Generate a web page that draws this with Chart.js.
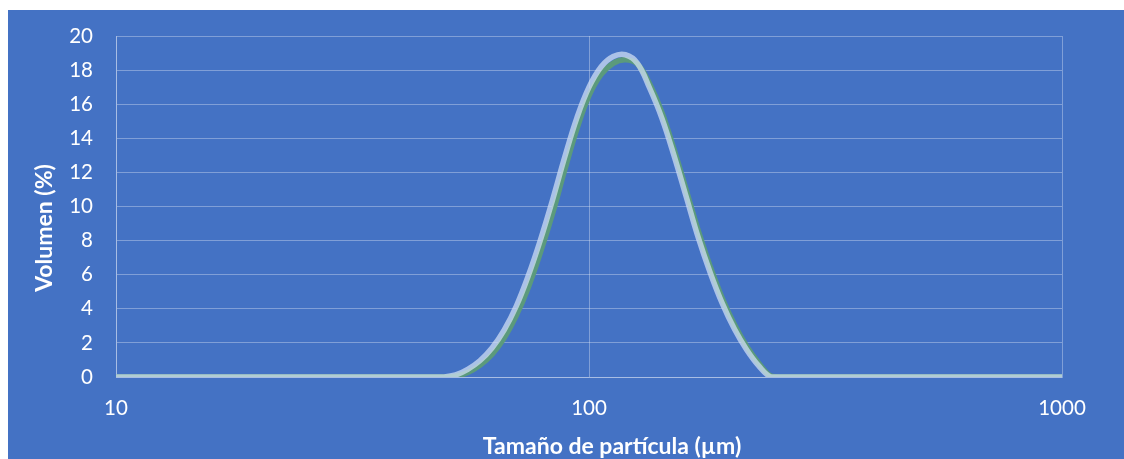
<!DOCTYPE html>
<html>
<head>
<meta charset="utf-8">
<script src="https://cdn.jsdelivr.net/npm/chart.js@4.4.0/dist/chart.umd.min.js"></script>
<style>
  html, body { margin: 0; padding: 0; background: #ffffff; }
  #wrap { position: absolute; left: 8px; top: 10px; width: 1116px; height: 449px; background: #4472C4; }
</style>
</head>
<body>
<div id="wrap"><canvas id="grafico" width="1116" height="449"></canvas></div>
<script>
// tamaño de partícula (µm), escala log
var tamanos = [10.00, 10.61, 11.25, 11.94, 12.66, 13.43, 14.25, 15.12, 16.04, 17.01,
  18.05, 19.14, 20.31, 21.54, 22.85, 24.24, 25.72, 27.28, 28.94, 30.70,
  32.57, 34.55, 36.65, 38.88, 41.25, 43.76, 46.42, 49.24, 52.23, 55.41,
  58.78, 62.36, 66.15, 70.17, 74.44, 78.97, 83.77, 88.86, 94.27, 100.0,
  106.1, 112.5, 119.4, 126.6, 134.3, 142.5, 151.2, 160.4, 170.1, 180.5,
  191.4, 203.1, 215.4, 228.5, 242.5, 257.2, 272.8, 289.4, 307.0, 325.7,
  345.5, 366.5, 388.8, 412.5, 437.6, 464.2, 492.4, 522.3, 554.1, 587.8,
  623.5, 661.5, 701.7, 744.4, 789.7, 837.7, 888.6, 942.7, 1000];

// muestra A (verde)
var volumenA = [0, 0, 0, 0, 0, 0, 0, 0, 0, 0,
  0, 0, 0, 0, 0, 0, 0, 0, 0, 0,
  0, 0, 0, 0, 0, 0, 0, 0, 0.05, 0.26,
  0.68, 1.32, 2.28, 3.6, 5.27, 7.32, 9.6, 12.15, 14.55, 16.5,
  17.75, 18.4, 18.6, 18.35, 17.2, 15.55, 13.37, 11.0, 8.6, 6.46,
  4.6, 3.06, 1.8, 0.81, 0.05, 0, 0, 0, 0, 0,
  0, 0, 0, 0, 0, 0, 0, 0, 0, 0,
  0, 0, 0, 0, 0, 0, 0, 0, 0];

// muestra B (celeste)
var volumenB = [0, 0, 0, 0, 0, 0, 0, 0, 0, 0,
  0, 0, 0, 0, 0, 0, 0, 0, 0, 0,
  0, 0, 0, 0, 0, 0, 0, 0, 0.12, 0.45,
  0.95, 1.7, 2.75, 4.15, 5.95, 8.05, 10.4, 12.9, 15.2, 17.0,
  18.2, 18.8, 18.9, 18.4, 16.95, 15.2, 13.0, 10.6, 8.2, 6.1,
  4.3, 2.8, 1.6, 0.65, 0, 0, 0, 0, 0, 0,
  0, 0, 0, 0, 0, 0, 0, 0, 0, 0,
  0, 0, 0, 0, 0, 0, 0, 0, 0];

var xTicks = [10, 100, 1000];
var yTicks = [0, 2, 4, 6, 8, 10, 12, 14, 16, 18, 20];

var tituloX = 'Tamaño de partícula (µm)';
var tituloY = 'Volumen (%)';

function puntos(vals) {
  return tamanos.map(function (t, i) { return { x: t, y: vals[i] }; });
}

var grid = 'rgba(255,255,255,0.32)';

// titulos de ejes dibujados a mano (Excel no los centra en el area)
var titulos = {
  id: 'titulos',
  afterDraw: function (chart) {
    var c = chart.ctx;
    c.save();
    c.fillStyle = '#ffffff';
    c.font = 'bold 23px Lato';
    c.textAlign = 'center';
    c.textBaseline = 'middle';
    c.fillText(tituloX, 604, 437);
    c.translate(37, 218);
    c.rotate(-Math.PI / 2);
    c.fillText(tituloY, 0, 0);
    c.restore();
  }
};

var ctx = document.getElementById('grafico');
var chart = new Chart(ctx, {
  type: 'line',
  data: {
    datasets: [{
      label: 'B',
      data: puntos(volumenB),
      borderColor: 'rgba(210,225,245,0.72)',
      borderWidth: 5.5,
      pointRadius: 0,
      tension: 0.4,
      order: 0
    }, {
      label: 'A',
      data: puntos(volumenA),
      borderColor: '#5b9a7c',
      borderWidth: 5.5,
      pointRadius: 0,
      tension: 0.4,
      order: 1
    }]
  },
  options: {
    responsive: false,
    animation: false,
    events: [],
    layout: { padding: { top: 26, right: 62, left: 0, bottom: 0 } },
    plugins: { legend: { display: false }, tooltip: { enabled: false } },
    scales: {
      x: {
        type: 'logarithmic',
        min: 10,
        max: 1000,
        afterBuildTicks: function (axis) {
          axis.ticks = xTicks.map(function (v) { return { value: v }; });
        },
        afterFit: function (axis) { axis.height = 82; },
        ticks: {
          color: '#ffffff',
          font: { family: 'Lato', size: 20.5 },
          padding: 19,
          maxRotation: 0,
          callback: function (v) { return String(v); }
        },
        grid: { color: grid, drawTicks: false },
        border: { color: grid }
      },
      y: {
        min: 0,
        max: 20,
        afterBuildTicks: function (axis) {
          axis.ticks = yTicks.map(function (v) { return { value: v }; });
        },
        afterFit: function (axis) {
          axis.width = 108;
          axis.paddingTop = 0;
          axis.paddingBottom = 0;
        },
        ticks: {
          color: '#ffffff',
          font: { family: 'Lato', size: 20.5 },
          padding: 23
        },
        grid: { color: grid, drawTicks: false },
        border: { color: grid }
      }
    }
  },
  plugins: [titulos]
});
</script>
</body>
</html>
